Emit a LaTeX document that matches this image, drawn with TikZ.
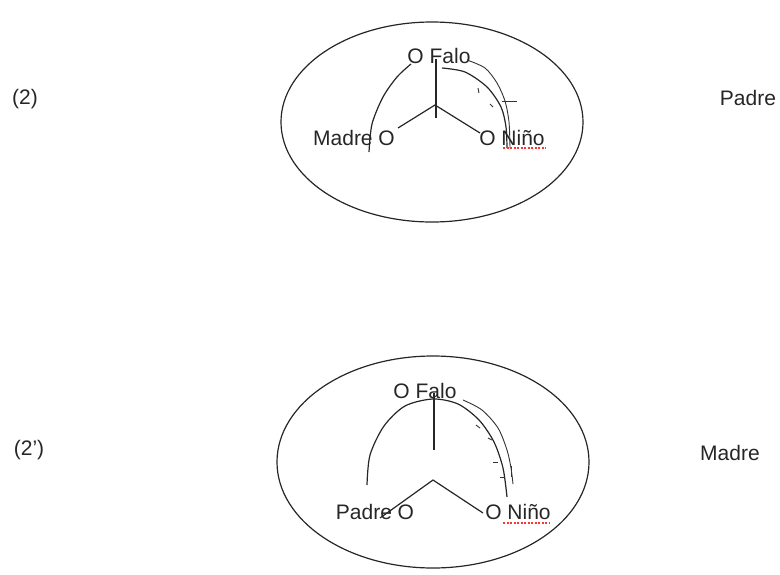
\documentclass[tikz,border=0pt]{standalone}
\usepackage{fontspec}
\setmainfont{Liberation Sans}
\begin{document}
\begin{tikzpicture}[x=1pt,y=-1pt,
  lbl/.style={font=\fontsize{21}{25}\selectfont, inner sep=0pt, text=black!85},
  ln/.style={line width=1.2pt, draw=black!85},
  thin/.style={line width=0.9pt, draw=black!80},
  spell/.style={draw=red!80, line width=1.3pt, dash pattern=on 2pt off 1.5pt}]
\useasboundingbox (0,0) rectangle (780,574);
% ---------- top figure ----------
\node[lbl] (t2) at (25,99) {(2)};
\node[lbl] (tpadre) at (748,98) {Padre};
\draw[ln] (432,122) ellipse [x radius=151, y radius=100];
\node[lbl] (tfalo) at (439,56) {O Falo};
\node[lbl] (tmadre) at (354,138) {Madre O};
\node[lbl] (tnino) at (512,138) {O Niño};
\coordinate (tv1) at (436,59);
\coordinate (tv2) at (436,118);
\coordinate (tl) at (398,128);
\coordinate (ta) at (435,105);
\coordinate (tr) at (480,133);
\draw[ln] (tv1) -- (tv2);
\draw[ln] (tl) -- (ta) -- (tr);
\draw[ln] plot[smooth] coordinates {(369,152) (372,124) (383,97) (397,77) (411,64)};
\draw[ln] plot[smooth] coordinates {(442,68) (465,72) (487,87) (501,107) (506,127) (507,148)};
\draw[thin] plot[smooth] coordinates {(467,60) (485,68) (497,83) (505,101) (509,122) (510,148)};
\draw[thin] (478,88) -- (479,93);
\draw[thin] (490,104) -- (493,107);
\draw[thin] (502,101) -- (517,101);
\draw[spell] (503,148) -- (546,148);
% ---------- bottom figure ----------
\node[lbl] (b2) at (29,450) {(2')};
\node[lbl] (bmadre) at (730,453) {Madre};
\draw[ln] (433,462) ellipse [x radius=156, y radius=106];
\node[lbl] (bfalo) at (425,391) {O Falo};
\node[lbl] (bpadre) at (375,512) {Padre O};
\node[lbl] (bnino) at (518,512) {O Niño};
\coordinate (bv1) at (434,393);
\coordinate (bv2) at (434,450);
\coordinate (bl) at (380,518);
\coordinate (ba) at (433,480);
\coordinate (br) at (483,513);
\draw[ln] (bv1) -- (bv2);
\draw[ln] (bl) -- (ba) -- (br);
\draw[ln] plot[smooth] coordinates {(367,485) (370,455) (384,426) (405,406) (433,399) (458,404) (479,420) (494,442) (503,468) (507,497)};
\draw[thin] plot[smooth] coordinates {(463,400) (482,410) (498,428) (507,450) (511,468) (513,484)};
\draw[thin] (476,425) -- (480,428);
\draw[thin] (488,438) -- (492,440);
\draw[thin] (493,462) -- (498,462);
\draw[thin] (500,477) -- (505,477);
\draw[thin] (511,466) -- (511,477);
\draw[spell] (503,523) -- (550,523);
\end{tikzpicture}
\end{document}
